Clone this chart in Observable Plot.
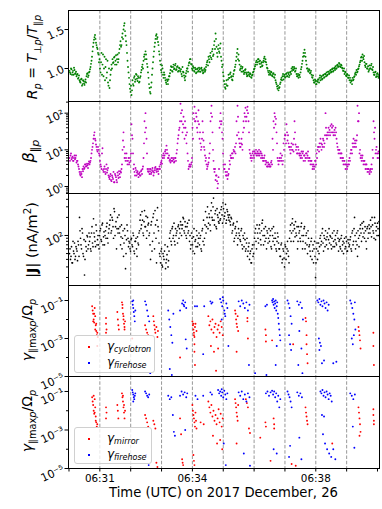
<!DOCTYPE html>
<html><head><meta charset="utf-8">
<script src="https://cdn.jsdelivr.net/npm/d3@7"></script>
<script src="https://cdn.jsdelivr.net/npm/@observablehq/plot@0.6"></script>
<style>
body{margin:0;background:#fff;font-family:"DejaVu Sans",sans-serif;}
#wrap{position:relative;width:382px;height:509px;overflow:hidden;}
#wrap svg{position:absolute;left:0;}
.leg{position:absolute;border:1px solid #d0d0d0;border-radius:3px;background:rgba(255,255,255,0.8);font-family:"DejaVu Sans";font-size:12px;color:#000;}
.leg .mk{position:absolute;width:2px;height:2px;}
.leg .tx{position:absolute;line-height:1;white-space:nowrap;}
.leg sub{font-size:8px;font-style:italic;vertical-align:-2px;}
</style></head>
<body><div id="wrap"></div>
<script>
// ---- data ----
const cadence = 1.945;            // seconds between samples
const firstSample = 1;            // seconds after 06:30:00 UTC
const Rp = [
0.97,0.93,0.99,0.95,0.92,0.98,0.94,0.90,0.93,0.88,
0.85,0.82,0.87,0.80,0.84,0.79,0.86,0.90,0.94,0.91,
0.96,1.02,1.10,1.22,1.33,1.40,1.38,1.30,1.25,1.18,
1.12,0.95,1.20,1.05,0.90,1.15,1.02,0.88,1.10,0.78,
0.75,0.92,1.05,1.12,1.08,1.15,1.10,1.05,1.18,1.12,
1.25,1.35,1.30,1.45,1.50,1.58,1.42,1.30,1.10,0.95,
0.80,0.70,0.66,0.85,0.78,0.90,0.86,0.92,0.84,0.88,
0.83,0.90,0.98,1.05,1.10,1.18,1.22,1.12,1.02,0.88,
0.75,0.68,0.82,1.00,1.15,1.28,1.38,1.44,1.40,1.30,
1.18,1.05,0.95,1.00,0.88,0.92,0.85,0.80,0.84,0.86,
0.90,0.98,1.02,0.96,1.05,1.00,1.06,0.99,1.03,0.97,
1.00,0.96,0.93,1.02,0.95,0.88,0.90,0.97,1.00,1.04,
1.08,1.12,1.05,0.98,1.01,0.96,0.99,0.95,1.00,0.97,
0.99,0.96,1.01,0.97,0.95,1.00,0.98,1.05,1.10,1.15,
1.08,1.20,1.12,1.25,1.18,1.35,1.45,1.28,1.15,1.30,
1.20,1.32,1.10,1.05,0.90,0.80,0.74,0.85,0.78,0.92,
0.88,0.95,0.90,0.85,0.93,0.98,1.05,1.15,1.25,1.18,
1.05,1.00,0.96,1.02,0.97,0.95,0.99,0.93,0.91,0.95,
0.90,0.93,0.88,0.92,0.96,1.00,1.05,1.10,1.08,1.12,
1.06,1.02,1.08,1.04,1.10,1.15,1.12,1.05,1.00,0.95,
0.97,0.92,0.95,0.90,0.94,0.88,0.85,0.80,0.74,0.72,
0.76,0.82,0.88,0.90,0.86,0.92,0.89,0.94,0.90,0.93,
0.91,0.96,1.00,1.02,0.98,1.00,0.97,0.93,0.90,0.88,
0.92,0.95,1.02,1.10,1.20,1.24,1.15,1.05,1.00,0.96,
0.98,0.95,0.92,0.88,0.85,0.82,0.84,0.80,0.83,0.86,
0.88,0.85,0.90,0.87,0.92,0.89,0.93,0.95,0.92,0.96,
0.94,0.98,0.96,1.00,0.97,1.01,1.03,1.00,1.05,1.03,
1.06,1.02,1.04,1.00,0.97,0.93,0.95,0.90,0.92,0.88,
0.85,0.82,0.84,0.88,0.86,0.90,0.95,0.98,0.96,1.00,
1.05,1.10,1.15,1.18,1.12,1.08,1.02,1.06,1.00,0.96,
1.04,1.00,1.06,0.98,0.95,0.92,0.96,0.90,0.94,0.88];
const RpMid = [
0.95,1.00,0.92,0.97,1.01,0.93,0.96,0.92,0.87,0.91,
0.83,0.86,0.78,0.85,0.81,0.83,0.82,0.93,0.89,0.95,
0.99,1.06,1.15,1.28,1.37,1.43,1.33,1.27,1.20,1.08,
1.00,1.08,0.92,1.18,1.00,0.85,1.12,0.95,0.82,1.00,
0.85,0.98,1.00,1.07,1.14,1.05,1.17,1.12,1.08,1.20,
1.30,1.28,1.40,1.38,1.55,1.48,1.35,1.20,1.02,0.88,
0.74,0.78,0.72,0.80,0.88,0.83,0.93,0.87,0.90,0.82,
0.88,0.95,1.02,1.00,1.15,1.12,1.18,1.06,0.95,0.80,
0.70,0.76,0.92,1.08,1.22,1.33,1.42,1.38,1.34,1.22,
1.10,0.98,1.04,0.92,0.95,0.88,0.82,0.86,0.80,0.90,
0.94,1.03,0.97,1.02,0.99,1.04,0.98,1.02,0.96,1.01,
0.97,0.99,0.90,0.96,0.91,0.85,0.94,1.00,0.96,1.07,
1.12,1.06,1.00,1.03,0.97,1.01,0.94,0.99,0.96,1.01,
0.96,1.00,0.98,0.94,0.98,0.96,1.02,1.08,1.04,1.12,
1.16,1.14,1.22,1.16,1.30,1.25,1.38,1.20,1.25,1.22,
1.26,1.15,1.02,0.95,0.84,0.76,0.80,0.78,0.86,0.88,
0.93,0.89,0.86,0.90,0.97,1.02,1.10,1.20,1.12,1.10,
0.98,1.03,1.00,0.96,0.93,0.98,0.95,0.90,0.95,0.92,
0.94,0.89,0.91,0.95,0.99,1.03,1.08,1.05,1.12,1.09,
1.10,1.06,1.03,1.08,1.13,1.09,1.08,1.01,0.97,0.92,
0.94,0.96,0.91,0.93,0.89,0.92,0.82,0.77,0.78,0.75,
0.80,0.86,0.85,0.93,0.90,0.88,0.93,0.90,0.95,0.89,
0.95,0.93,0.97,0.99,1.02,0.96,1.00,0.90,0.93,0.91,
0.89,0.99,1.06,1.15,1.16,1.20,1.10,1.00,0.97,0.99,
0.94,0.97,0.89,0.91,0.82,0.86,0.80,0.84,0.86,0.82,
0.91,0.88,0.86,0.91,0.88,0.93,0.90,0.91,0.96,0.93,
0.97,0.95,0.99,0.96,1.00,0.98,1.00,1.04,1.02,1.07,
1.03,1.05,1.01,0.97,1.00,0.96,0.91,0.93,0.88,0.91,
0.88,0.85,0.80,0.85,0.89,0.93,0.92,0.95,0.99,1.03,
1.08,1.14,1.10,1.14,1.16,1.04,1.06,1.00,1.03,0.98,
1.00,1.04,0.99,1.02,0.92,0.95,0.89,0.93,0.90,0.92];
const betaPar = [
6,7,5.5,6.5,5,7,6,4.5,5,3.5,
2.5,2,2.2,3,3.5,3.2,4,3.6,3.8,4.2,
4,5,8,12,20,30,18,12,9,10,
7,4,3,11,2.5,3.5,2.2,4,2.8,2,
1.6,2.2,1.4,1.8,2.5,1.3,2,1.5,2.4,1.7,
2.2,2.6,3,10,30,6,5,8,4,6,
4.5,5,50,20,3,2.5,3.2,2,2.6,1.8,
2.4,2,2.8,3,6,60,100,20,3,2.5,
2.2,3,2.4,3.2,2,2.8,3.4,2.5,3,2.2,
3.5,4,5,6,8,7,10,13,8,6,
5,4.5,6,5,5.5,4.8,6,8,15,25,
40,180,60,30,80,20,40,15,8,3,
4,3.5,4.5,40,100,150,60,80,30,120,
20,15,12,60,18,10,5,4,3.5,4.5,
8,60,160,30,5,2.5,1.5,2,0.9,1.8,
40,100,60,20,4,3,2.5,2,1.6,2.2,
5,7,6,8,10,9,8,60,160,30,
15,12,20,10,60,100,140,80,150,60,
10,6,5,8,7,9,8,7,9,8,
7,9,8,6,5,7,4,4.5,3.5,4,
4,3.5,5,20,60,100,50,30,6,4,
6,8,5,4,15,20,25,50,18,15,
12,8,15,10,9,60,14,12,8,10,
7,6,9,8,5,7,6,8,7,5,
6,4,5,3,4,3.5,5,8,10,12,
15,20,10,12,18,15,100,25,30,40,
35,45,50,30,25,35,40,20,12,8,
10,6,8,5,4,5,3,4,3.5,5,
6,8,10,15,20,12,15,18,160,60,
8,6,5,7,4,5,3,4,2.5,3,
2.2,3,4,10,60,20,8,12,6,9];
const betaParMid = [
5,8,6,5,6,5.5,7,5,4,3,
2.2,2.5,1.8,2.6,3,4,3.5,4.2,3.2,4.8,
4.5,6,10,15,25,20,14,10,12,8,
5,3.5,8,2.8,3,2.5,3,2.4,3.2,1.8,
1.9,1.5,2,1.6,1.3,2.2,1.8,1.3,2,2.6,
1.8,2.4,4,18,12,8,6,5,5,4,
6,8,25,8,4,2,2.8,2.4,2.2,2.2,
2,2.6,2.2,3.5,15,30,40,8,2.6,3,
2.6,2.2,2.8,2.6,2.4,3.2,2.8,3,2.6,3,
3,4.5,4.2,7,6,9,8,10,6,7,
5.5,5,5,6,4.5,6,5,10,20,35,
60,100,120,50,40,60,25,30,5,3.5,
3.5,4,6,20,70,60,100,40,60,50,
30,10,20,30,12,7,6,3,4,6,
15,100,80,10,3,3,2,1.4,1.2,3,
60,50,30,8,3,4,2,2.5,2,3,
4,6,8,6,9,12,15,25,80,20,
12,15,14,30,40,80,60,120,100,30,
8,7,6,9,6,8,10,8,7,10,
8,6,7,5,6,5,5,3.5,4.5,3.5,
3.5,4.5,4,10,40,80,70,15,5,5,
5,6,7,5,10,25,15,30,25,12,
10,12,10,14,20,30,10,8,12,8,
8,7,6,9,7,5,8,6,9,6,
5,5,4,3.5,3,5,4,6,12,9,
12,15,14,20,12,25,40,20,25,30,
25,30,40,45,30,25,30,15,10,10,
8,8,6,6,5,4,4,3,4,4,
5,10,8,12,15,18,12,25,60,100,
10,7,6,5,5,4,4,3,3,2.5,
2.8,2.5,3,6,30,40,10,8,8,6];
const currentJ = [
50,40,65,35,55,75,45,60,38,70,
200,90,60,110,45,22,80,55,95,70,
80,60,110,75,190,95,65,120,85,70,
100,130,80,160,95,70,120,140,90,110,
150,220,120,180,90,250,140,60,200,130,
110,70,150,90,45,130,28,85,120,65,
75,55,90,65,100,50,80,60,95,70,
120,220,150,180,100,260,140,90,200,160,
110,40,170,80,230,60,150,35,290,120,
50,35,60,30,45,55,28,40,65,38,
90,120,70,140,100,80,130,110,75,150,
130,170,100,150,190,110,140,90,160,120,
80,60,110,70,95,50,85,120,65,90,
70,100,55,130,180,90,250,140,300,160,
200,120,350,180,420,150,260,130,220,170,
240,190,300,160,280,210,330,180,250,200,
220,150,190,120,160,90,140,110,70,130,
100,80,130,60,90,110,55,75,45,65,
40,55,35,70,50,90,130,60,110,75,
150,85,120,180,70,100,140,60,110,90,
80,120,60,100,140,70,90,55,110,75,
60,45,75,40,55,30,65,50,80,45,
90,150,110,190,80,130,170,100,60,140,
120,80,160,60,100,140,75,110,50,90,
70,45,90,55,35,80,20,60,40,75,
65,100,80,130,55,90,120,70,110,85,
75,95,60,110,80,65,100,70,120,55,
85,60,100,70,50,90,65,80,55,75,
70,95,55,120,80,200,60,110,45,90,
100,150,80,130,170,90,120,60,140,110,
130,180,95,150,110,200,85,140,160,100];
const currentJMid = [
60,45,35,80,50,40,65,55,80,45,
120,70,130,50,85,40,65,100,60,110,
95,55,140,65,110,80,150,70,100,60,
120,85,150,70,115,100,90,160,75,130,
180,110,200,140,280,100,170,130,110,220,
140,95,60,120,75,100,50,150,90,80,
60,85,70,110,55,80,90,45,75,110,
180,130,250,110,170,140,210,120,150,100,
70,150,55,200,110,260,90,180,140,75,
45,55,32,50,40,70,35,48,30,55,
110,80,130,90,160,70,100,120,140,90,
110,150,130,200,120,170,100,140,110,180,
100,70,90,55,130,80,65,100,75,110,
90,60,120,80,70,150,110,200,130,230,
150,260,200,300,180,230,140,280,200,160,
180,270,220,350,190,240,160,270,220,180,
170,200,110,150,80,130,100,170,90,110,
85,120,70,100,65,85,60,90,55,75,
50,35,60,45,70,110,80,150,90,130,
110,70,160,100,130,80,90,120,75,130,
100,65,130,80,90,110,60,80,95,60,
45,70,35,60,42,70,40,60,55,35,
120,80,160,120,150,95,110,140,80,110,
90,140,100,80,130,60,100,70,120,65,
55,80,40,70,60,45,35,75,55,50,
90,70,110,75,100,65,85,95,60,130,
100,70,90,65,120,85,75,110,90,80,
65,90,55,80,75,60,95,55,85,65,
85,60,110,70,130,100,80,70,120,65,
130,110,160,95,110,140,80,130,90,150,
110,140,200,120,90,160,120,100,130,170];
// [seconds after 06:30:00, growth rate]
const gammaCyclotron = [
[45,5e-2],[46,3e-2],[47,2e-2],[48,1e-2],[49,7e-3],[50,4e-2],[51,1.5e-2],[52,5e-3],[53,2.5e-3],[54,1.5e-3],[47,8e-3],[49,2e-2],[51,3e-3],[53,6e-3],[55,2e-3],[56,1.2e-3],[55,4e-4],
[72,1.2e-2],[72,6e-3],[73,3e-3],[72,2e-3],[94,2.5e-2],[95,1e-2],[96,5e-3],[97,3e-3],
[103,8e-2],[104,4e-2],[105,2e-2],[106,1e-2],[107,6e-3],[108,3e-3],[104,6e-2],[106,1.5e-2],[108,4e-3],[109,8e-3],[123,1e-3],
[148,5e-3],[150,3e-3],[152,2e-3],[154,1.5e-3],[164,1.5e-2],[165,8e-3],[166,5e-3],[167,3e-3],[168,2e-3],[170,4e-3],[172,1.2e-3],[173,2.5e-3],[216,1e-4],
[240,8e-3],[241,5e-3],[242,3e-3],[243,2e-3],[244,1.2e-3],[245,4e-3],[246,6e-3],[248,2.5e-3],[242,6e-3],[243,1.5e-3],[244,5e-4],[244,2e-4],[245,4e-5],
[271,1.5e-2],[273,5e-3],[275,8e-3],[277,3e-3],[279,1e-2],[281,2e-3],[283,4e-3],[285,6e-3],[287,1.2e-3],[289,3e-3],[291,5e-3],[293,2e-3],[295,8e-3],[297,4e-3],[299,1.5e-3],[276,4e-4],[282,2e-4],[290,3e-4],[286,2e-5],
[323,3e-2],[324,2e-2],[325,1e-2],[326,6e-3],[327,4e-3],[328,1.5e-2],[329,2.5e-3],[326,2e-4],[347,1.2e-2],[347,8e-3],[348,1e-3],
[382,3e-3],[383,1.5e-3],[383,7e-4],[395,8e-4],[436,5e-4],[460,1.2e-2],[461,8e-3],[462,1.5e-3],[462,5e-4],[463,1.5e-4],[464,5e-5],
[563,4e-3],[564,2.5e-3],[565,1.5e-3],[566,8e-4],[567,3e-4],[592,2e-3],[592,4e-4],[593,4e-5]];
const gammaFirehose1 = [
[123,9e-2],[124,6e-2],[125,4e-2],[126,2.5e-2],[127,1.5e-2],[128,8e-3],[129,3e-2],[125,1e-1],
[148,9e-2],[150,6e-2],[152,3e-2],[154,1.5e-2],[156,8e-3],[150,3e-4],[158,1.5e-5],
[193,3e-2],[195,1e-2],[197,4e-3],[199,1.5e-3],[201,6e-4],[203,2e-2],[196,2.5e-5],[200,1.2e-5],[216,3e-2],
[220,7e-2],[222,1e-1],[224,5e-2],[226,8e-2],[228,4e-2],[223,6e-2],[227,9e-4],[229,3e-4],[245,5e-2],[249,5e-2],[263,5e-2],[261,1.5e-4],
[275,9e-2],[277,7e-2],[279,8e-2],[294,1.2e-1],[296,8e-2],[298,5e-2],[300,1e-1],[302,3e-2],[304,1.5e-2],[306,7e-2],[308,4e-2],[299,1.5e-1],[303,2e-2],[297,1e-2],[310,4e-4],
[330,9e-2],[333,5e-2],[336,1e-1],[339,7e-2],[342,4e-2],[345,8e-2],[348,3e-2],[351,6e-2],[350,4e-5],[362,1.5e-5],[384,1.2e-5],[382,5e-2],[385,6e-2],
[395,1e-1],[396,8e-2],[397,1.2e-1],[398,6e-2],[399,9e-2],[400,4e-2],[401,7e-2],[402,1e-1],[403,3e-2],[404,5e-2],[405,8e-2],[406,2e-2],[407,1.2e-2],[408,6e-3],[409,3e-3],[410,1.5e-3],[411,8e-4],[404,4e-4],[402,4e-5],
[425,1e-1],[427,7e-2],[429,4e-2],[431,1.5e-2],[433,6e-3],[428,1.5e-3],[430,5e-4],[432,2.5e-4],
[444,9e-2],[447,6e-2],[450,8e-2],[453,4e-2],[455,1e-2],[448,2.5e-3],[452,3e-4],[446,4e-5],[454,1.5e-5],
[483,1e-1],[485,8e-2],[487,1.2e-1],[489,6e-2],[491,9e-2],[493,5e-2],[495,1e-1],[497,7e-2],[499,4e-2],[501,8e-2],[503,3e-2],[505,6e-2],[486,1e-3],[488,6e-4],[490,4e-4],[487,2.5e-4],[492,5e-5],[496,7e-5],[514,5e-5],[520,6e-5],
[547,1e-1],[549,7e-2],[551,4e-2],[553,2e-2],[555,1e-2],[557,3e-3],[550,1e-3],[552,5e-4],[554,1.5e-3],[556,8e-2]];
const gammaMirror = [
[45,5e-2],[46,3e-2],[47,2e-2],[48,1e-2],[49,7e-3],[50,4e-2],[51,1.5e-2],[52,5e-3],[53,2.5e-3],[54,1.5e-3],[48,6e-2],[50,8e-3],[52,3e-3],[55,2e-3],
[72,1.5e-2],[73,8e-3],[72,4e-3],[94,2e-2],[95,1e-2],[96,4e-3],
[103,8e-2],[104,5e-2],[105,3e-2],[106,1.5e-2],[107,8e-3],[108,4e-3],[105,6e-2],[107,2e-2],[109,1e-2],
[148,6e-3],[150,4e-3],[152,2.5e-3],[154,1.5e-3],[164,3e-3],[166,2e-3],[168,1.2e-3],[170,2e-5],[172,1.2e-5],
[216,4e-3],[218,6e-4],[220,3e-5],[222,1.5e-5],[221,2e-5],
[240,2e-2],[241,1e-2],[242,6e-3],[243,4e-3],[244,2.5e-3],[245,1.5e-3],[246,8e-3],[247,3e-3],[248,1.2e-3],[242,5e-5],[243,2.5e-5],[244,1.5e-5],[256,2.5e-3],[262,2e-3],
[271,3e-2],[273,1.5e-2],[275,8e-3],[277,2e-2],[279,5e-3],[281,1e-2],[283,3e-3],[285,6e-3],[287,2e-3],[289,4e-3],[291,1.2e-2],[293,2.5e-3],[295,7e-3],[297,1.5e-3],[299,4e-3],[280,5e-4],[288,2e-4],[294,3e-4],[298,1e-4],
[323,4e-2],[324,2.5e-2],[325,1.5e-2],[326,8e-3],[327,5e-3],[328,3e-3],[329,2e-2],[326,2e-4],[344,4e-2],[346,2.5e-2],[348,1.5e-2],[350,1.2e-3],[352,7e-4],
[372,4e-4],[382,2.5e-3],[383,1.5e-3],[392,2.5e-5],[398,4e-3],[399,2e-3],[399,1.2e-3],[433,1.7e-5],[441,1.4e-5],
[460,1.5e-2],[461,8e-3],[462,5e-3],[463,3e-3],[464,2e-3],[512,2e-4],
[563,1.5e-2],[564,8e-3],[565,4e-3],[566,2e-3],[567,8e-4],[565,5e-4],[592,1.2e-2],[592,6e-3],[593,3e-3],[593,2e-3]];
const gammaFirehose2 = [
[123,1.2e-1],[124,9e-2],[125,7e-2],[126,5e-2],[127,4e-2],[128,6e-2],[129,8e-2],[125,3e-2],
[148,1e-1],[150,8e-2],[152,6e-2],[154,5e-2],[156,7e-2],[150,5e-5],[155,1.5e-5],
[193,6e-2],[196,4e-2],[199,5e-2],[202,6e-3],[204,8e-4],[206,5e-4],
[216,6e-2],[219,1e-1],[222,7e-2],[225,9e-2],[228,5e-2],[230,8e-2],[226,1e-3],[246,6e-2],[250,4e-2],[261,6e-2],[275,9e-2],[278,7e-2],
[290,1.2e-1],[292,8e-2],[294,1e-1],[296,6e-2],[298,9e-2],[300,5e-2],[302,1.1e-1],[304,7e-2],[306,4e-2],[308,8e-2],[297,1.3e-1],[301,2e-4],[305,1.5e-5],
[330,9e-2],[333,6e-2],[336,1e-1],[339,4e-2],[342,7e-2],[345,3e-2],[348,8e-2],[351,5e-2],[340,6e-5],[352,1.4e-5],
[383,8e-2],[386,1e-1],[389,6e-2],[392,9e-2],[395,1.1e-1],[397,7e-2],[399,1e-1],[401,5e-2],[403,8e-2],[405,3e-2],[407,6e-2],[409,1.5e-2],[411,4e-2],[398,1e-4],[404,6e-5],
[425,1e-1],[427,7e-2],[429,5e-2],[431,3e-2],[433,1.5e-2],[430,1.5e-4],[428,4e-5],
[444,9e-2],[447,6e-2],[450,8e-2],[453,5e-2],[448,4e-4],[452,3e-5],
[489,1e-1],[491,8e-2],[493,1.2e-1],[495,6e-2],[497,9e-2],[499,5e-2],[501,1e-1],[503,7e-2],[505,4e-2],[507,8e-2],[509,6e-2],[511,3e-2],[492,6e-3],[496,5e-3],[494,6e-4],[498,2e-4],[502,1e-4],[506,6e-5],[510,4e-5],[514,1e-4],[518,3e-5],
[547,8e-2],[550,6e-2],[553,4e-2],[556,7e-2],[552,1.5e-3],[555,1.2e-4]];
const xTickLabels = ["06:31", "06:34", "06:38"];
const ticksR = [1.0, 1.5];
const ticksBeta = [1, 10, 100];
const ticksJ = [100];
const ticksGamma = [1e-5, 1e-3, 1e-1];
const supLabel = {"1":"10⁰","10":"10¹","100":"10²","0.1":"10⁻¹","0.001":"10⁻³","0.00001":"10⁻⁵"};

// ---- helpers ----
const T0 = Date.UTC(2017, 11, 26, 6, 30, 0);
const at = s => new Date(T0 + s * 1000);
const xDomain = [at(-0.97), at(603.9)];
const minuteTicks = d3.utcMinute.range(at(0), at(601));
const gridMinutes = minuteTicks.slice(1, -1);
const series = (arr, off = 0) => arr.map((v, i) => ({t: at(firstSample + (i + off) * cadence), v}));
const pairs = arr => arr.map(([s, g]) => ({t: at(s), v: g}));
const minorLog = (lo, hi) => { const out = []; for (let e = -6; e <= 3; e++) for (let m = 2; m <= 9; m++) { const v = m * 10 ** e; if (v >= lo && v <= hi) out.push(v); } return out; };
const wrap = document.getElementById("wrap");
const FONT = "DejaVu Sans";

function yLabel(svg, x, y, parts, size) {
  const t = d3.select(svg).append("text")
    .attr("transform", `translate(${x},${y}) rotate(-90)`)
    .attr("text-anchor", "middle").attr("font-size", size)
    .attr("font-family", FONT).attr("fill", "black");
  let cur = 0;
  for (const [s, o = {}] of parts) {
    const target = o.sub ? 0.3 * size : o.sup ? -0.42 * size : 0;
    t.append("tspan").attr("dy", target - cur)
      .attr("font-size", (o.sub || o.sup) ? size * 0.7 : size)
      .attr("font-style", o.it ? "italic" : "normal")
      .attr("font-weight", o.b ? "bold" : "normal").text(s);
    cur = target;
  }
}

function panel({top, h, y, dots, majors, labels, fmt, minors = [], bottom = false, label, labelX, labelY, labelSize = 14}) {
  const extra = bottom ? 34 : 0;
  const marks = [
    Plot.ruleX(gridMinutes, {stroke: "#8c8c8c", strokeWidth: 0.9, strokeDasharray: "3.5,1.8"}),
    ...dots,
    Plot.axisY({ticks: majors, tickSize: 3.5, tickFormat: () => "", label: null}),
    Plot.axisY({ticks: minors, tickSize: 2, tickFormat: () => "", label: null}),
    Plot.text(labels, {y: d => d, text: fmt, frameAnchor: "left", dx: -5, rotate: -25, textAnchor: "end", fontSize: 11, fill: "black"}),
    Plot.frame({stroke: "black", strokeWidth: 1})
  ];
  if (bottom) marks.push(Plot.axisX({ticks: minuteTicks, tickSize: 3.5, tickPadding: 3, fontSize: 10.4, label: null,
    tickFormat: d => { const s = d3.utcFormat("%H:%M")(d); return xTickLabels.includes(s) ? s : ""; }}));
  const svg = Plot.plot({
    width: 382, height: h + 8 + extra,
    marginLeft: 68, marginRight: 3, marginTop: 4, marginBottom: 4 + extra,
    style: {background: "transparent", overflow: "visible", fontFamily: FONT, color: "black"},
    x: {type: "utc", domain: xDomain, ...(bottom ? {} : {axis: null})},
    y: {...y, axis: null},
    marks
  });
  svg.style.top = (top - 4) + "px";
  wrap.appendChild(svg);
  yLabel(svg, labelX, labelY - (top - 4), label, labelSize);
  if (bottom) {
    d3.select(svg).append("text").attr("x", 223.5).attr("y", 496.7 - (top - 4))
      .attr("text-anchor", "middle").attr("font-size", 13.2).attr("font-family", FONT)
      .attr("fill", "black").text("Time (UTC) on 2017 December, 26");
  }
  return svg;
}

const dot = (data, fill, r = 0.95) => Plot.dot(data, {x: "t", y: "v", r, fill, stroke: null});

panel({top: 10, h: 91, y: {domain: [0.577, 1.744]},
  dots: [dot(series(Rp), "#008000"), dot(series(RpMid, 0.5), "#008000")], majors: ticksR, labels: ticksR, fmt: d => d.toFixed(1),
  label: [["R",{it:1}],["p",{it:1,sub:1}],[" = "],["T",{it:1}],["⊥",{sub:1}],["p",{it:1,sub:1}],["/"],["T",{it:1}],["∥",{sub:1}],["p",{it:1,sub:1}]],
  labelX: 37, labelY: 57});
panel({top: 101, h: 92, y: {type: "log", domain: [0.644, 208]},
  dots: [dot(series(betaPar), "#bf00bf"), dot(series(betaParMid, 0.5), "#bf00bf")], majors: ticksBeta, labels: ticksBeta, minors: minorLog(0.644, 208), fmt: d => supLabel[String(d)],
  label: [["β",{it:1}],["∥",{sub:1}],["p",{it:1,sub:1}]], labelX: 34, labelY: 151, labelSize: 16});
panel({top: 193, h: 92, y: {type: "log", domain: [14.7, 500]},
  dots: [dot(series(currentJ), "black", 0.85), dot(series(currentJMid, 0.5), "black", 0.85)], majors: ticksJ, labels: ticksJ, minors: minorLog(14.7, 500), fmt: d => supLabel[String(d)],
  label: [["|"],["J",{b:1}],["| (nA/m"],["2",{sup:1}],[")"]], labelX: 37, labelY: 240, labelSize: 14.5});
panel({top: 285, h: 91, y: {type: "log", domain: [1e-5, 0.616]},
  dots: [dot(pairs(gammaCyclotron), "#ff0000"), dot(pairs(gammaFirehose1), "#0000ff")],
  majors: ticksGamma, labels: ticksGamma, minors: [1e-4, 1e-2], fmt: d => supLabel[String(d)],
  label: [["γ",{it:1}],["∥max",{sub:1}],["p",{it:1,sub:1}],["/Ω"],["p",{it:1,sub:1}]], labelX: 32, labelY: 330});
panel({top: 376, h: 92, y: {type: "log", domain: [1e-5, 0.6]},
  dots: [dot(pairs(gammaMirror), "#ff0000"), dot(pairs(gammaFirehose2), "#0000ff")],
  majors: ticksGamma, labels: ticksGamma, minors: [1e-4, 1e-2], fmt: d => supLabel[String(d)], bottom: true,
  label: [["γ",{it:1}],["∥max",{sub:1}],["p",{it:1,sub:1}],["/Ω"],["p",{it:1,sub:1}]], labelX: 32, labelY: 421});

// legends
function legend(left, top, w, h, entries) {
  const d = document.createElement("div");
  d.className = "leg";
  Object.assign(d.style, {left: left + "px", top: top + "px", width: w + "px", height: h + "px"});
  entries.forEach(([color, name], k) => {
    const cy = 11 + k * 16;
    const m = document.createElement("div"); m.className = "mk";
    Object.assign(m.style, {left: "13px", top: (cy - 1) + "px", background: color});
    const t = document.createElement("div"); t.className = "tx";
    Object.assign(t.style, {left: "32px", top: (cy - 7) + "px"});
    t.innerHTML = `<i>γ</i><sub>${name}</sub>`;
    d.appendChild(m); d.appendChild(t);
  });
  wrap.appendChild(d);
}
legend(74, 335, 79, 36, [["#ff0000", "cyclotron"], ["#0000ff", "firehose"]]);
legend(74, 427, 76, 35, [["#ff0000", "mirror"], ["#0000ff", "firehose"]]);
</script></body></html>
